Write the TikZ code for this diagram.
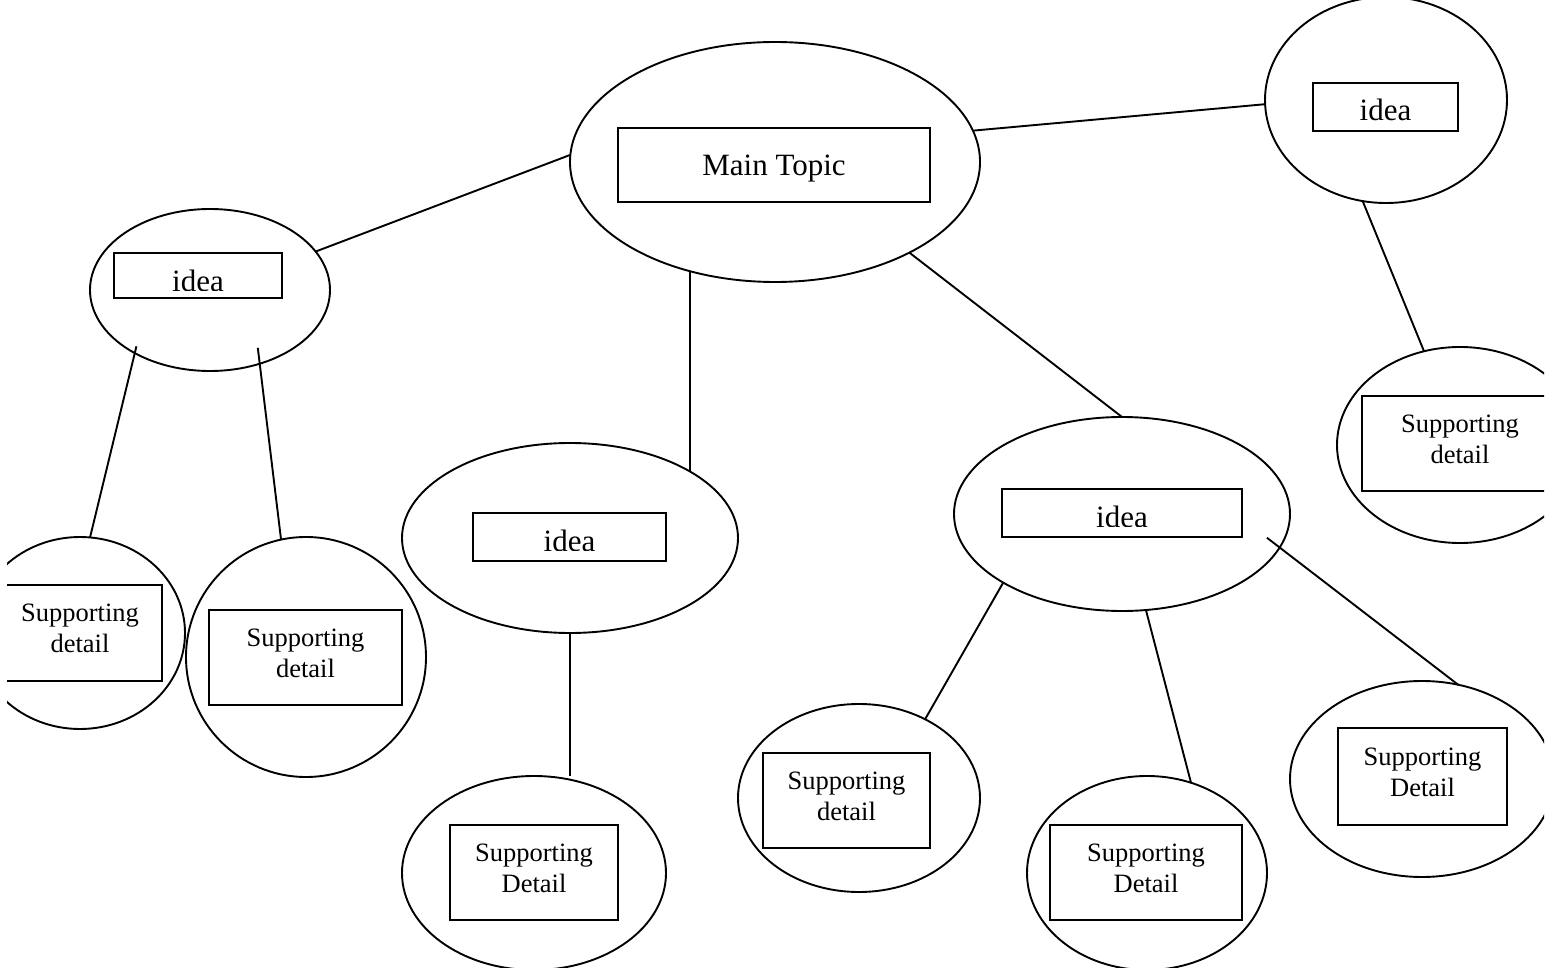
\documentclass[tikz,border=0pt]{standalone}
\usepackage{fontspec}
\setmainfont{Liberation Serif}
\usetikzlibrary{shapes.geometric}
\begin{document}
\begin{tikzpicture}[x=1pt,y=-1pt,line width=1.9pt,
  bubble/.style={draw, ellipse, inner sep=0pt, outer sep=0pt},
  ideabox/.style={draw, rectangle, inner sep=0pt, outer sep=0pt, minimum height=48pt},
  detbox/.style={draw, rectangle, inner sep=0pt, outer sep=0pt, align=center,
    font=\fontsize{26.5}{31}\selectfont, text depth=9pt},
  ideatext/.style={inner sep=0pt, font=\fontsize{31}{37}\selectfont, anchor=base},
  link/.style={draw}
]
\useasboundingbox (0,0) rectangle (1556,968);
\clip (7,0) rectangle (1544,968);

% main topic
\node[bubble, minimum width=410pt, minimum height=240pt] (main) at (775,162) {};
\node[draw, rectangle, inner sep=0pt, minimum width=312pt, minimum height=74pt,
  text height=28pt, font=\fontsize{31}{37}\selectfont] (mainbox) at (774,165) {Main Topic};

% idea top right
\node[bubble, minimum width=242pt, minimum height=206pt] (tr) at (1386,100) {};
\node[ideabox, minimum width=145pt] (trbox) at (1385.5,107) {};
\begin{scope}
\clip (trbox.north west) rectangle ([yshift=10.5pt]trbox.south east);
\node[ideatext] (trtext) at ([yshift=10pt]trbox.south) {idea};
\end{scope}

% idea left
\node[bubble, minimum width=240pt, minimum height=162pt] (li) at (210,290) {};
\node[ideabox, minimum width=168pt, minimum height=45pt] (libox) at (198,275.5) {};
\begin{scope}
\clip (libox.north west) rectangle ([yshift=7pt]libox.south east);
\node[ideatext] (litext) at ([yshift=6.5pt]libox.south) {idea};
\end{scope}

% idea centre
\node[bubble, minimum width=336pt, minimum height=190pt] (ci) at (570,538) {};
\node[ideabox, minimum width=193pt] (cibox) at (569.5,537) {};
\begin{scope}
\clip (cibox.north west) rectangle ([yshift=10.5pt]cibox.south east);
\node[ideatext] (citext) at ([yshift=10pt]cibox.south) {idea};
\end{scope}

% idea right
\node[bubble, minimum width=336pt, minimum height=194pt] (ri) at (1122,514) {};
\node[ideabox, minimum width=240pt] (ribox) at (1122,513) {};
\begin{scope}
\clip (ribox.north west) rectangle ([yshift=10.5pt]ribox.south east);
\node[ideatext] (ritext) at ([yshift=10pt]ribox.south) {idea};
\end{scope}

% supporting details
\node[bubble, minimum width=210pt, minimum height=192pt] (d1) at (80,633) {};
\node[detbox, minimum width=164pt, minimum height=96pt] (d1box) at (80,633) {Supporting\\detail};

\node[bubble, minimum width=240pt, minimum height=240pt] (d2) at (306,657) {};
\node[detbox, minimum width=193pt, minimum height=95pt] (d2box) at (305.5,657.5) {Supporting\\detail};

\node[bubble, minimum width=264pt, minimum height=194pt] (d3) at (534,873) {};
\node[detbox, minimum width=168pt, minimum height=95pt] (d3box) at (534,872.5) {Supporting\\Detail};

\node[bubble, minimum width=242pt, minimum height=188pt] (d4) at (859,798) {};
\node[detbox, minimum width=167pt, minimum height=95pt] (d4box) at (846.5,800.5) {Supporting\\detail};

\node[bubble, minimum width=240pt, minimum height=194pt] (d5) at (1147,873) {};
\node[detbox, minimum width=192pt, minimum height=95pt] (d5box) at (1146,872.5) {Supporting\\Detail};

\node[bubble, minimum width=264pt, minimum height=196pt] (d6) at (1422,779) {};
\node[detbox, minimum width=169pt, minimum height=97pt] (d6box) at (1422.5,776.5) {Supporting\\Detail};

\node[bubble, minimum width=246pt, minimum height=196pt] (d7) at (1460,445) {};
\node[detbox, minimum width=196pt, minimum height=95pt] (d7box) at (1460,443.5) {Supporting\\detail};

% connectors
\draw[link] (main.178) -- (li.20);
\draw[link] (main.9) -- (tr.182);
\draw[link] (main.232) -- (ci.29.5 -| main.232);
\draw[link] (main.-34) -- (ri.north);
\draw[link] (tr.257) -- (d7.111);
\draw[link, shorten <=-7pt] (li.220) -- (d1.84);
\draw[link, shorten <=-16pt] (li.-56) -- (d2.102);
\draw[link] (ci.south) -- (ci.south |- d3.north);
\draw[link] (ri.210) -- (d4.50);
\draw[link] (ri.-76) -- (d5.64);
\draw[link, shorten <=-16pt] (ri.-12) -- (d6.69);
\end{tikzpicture}
\end{document}
